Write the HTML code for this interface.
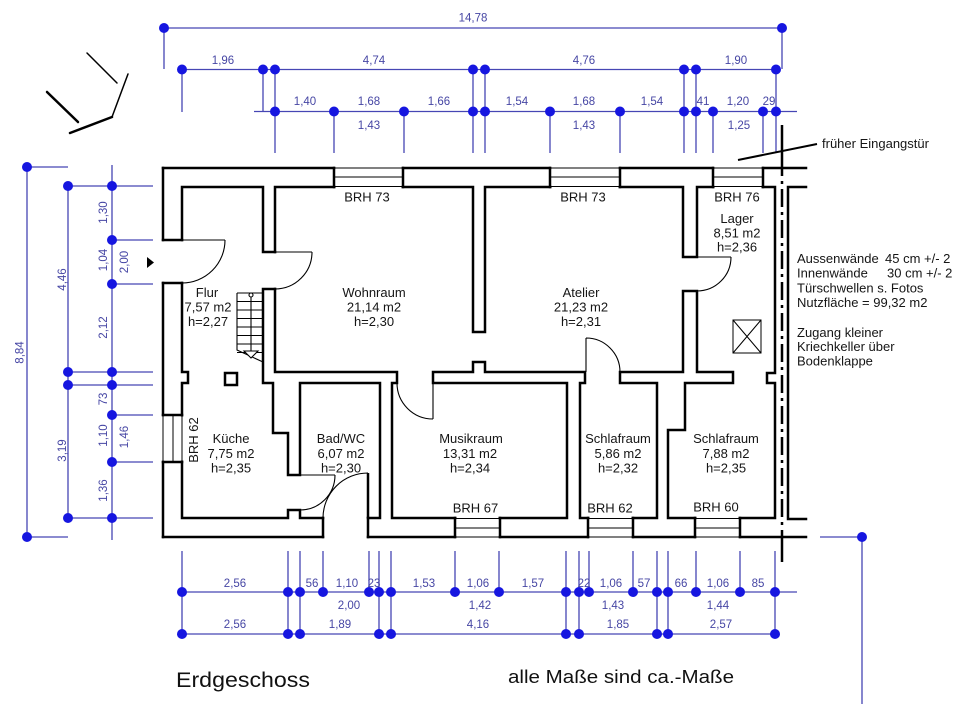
<!DOCTYPE html>
<html>
<head>
<meta charset="utf-8">
<style>
html,body{margin:0;padding:0;background:#fff;}
body{width:960px;height:704px;overflow:hidden;}
svg{display:block;}
text{font-family:"Liberation Sans",Arial,sans-serif;}
.dim{font-size:11.5px;fill:#4646a4;text-anchor:middle;}
.rm{font-size:13px;fill:#151515;text-anchor:middle;}
.nt{font-size:13px;fill:#151515;}
</style>
</head>
<body>
<svg width="960" height="704" viewBox="0 0 960 704" xmlns="http://www.w3.org/2000/svg">
<rect width="960" height="704" fill="#fff"/>

<!-- compass -->
<g stroke="#000" fill="none" stroke-linecap="round">
<path d="M87,53 L117,83" stroke-width="1.5"/>
<path d="M47,92 L78,122" stroke-width="2.5"/>
<path d="M70,133 L112,117" stroke-width="2.5"/>
<path d="M112,117 L128,74" stroke-width="1.5"/>
</g>

<!-- dimension lines -->
<g stroke="#4646b4" stroke-width="1.3" fill="none">
<path d="M164,28 H782 M164,28 V69 M782,28 V69"/>
<path d="M182,69.5 H776 M182,69.5 V112 M263,69.5 V112"/>
<path d="M275,69.5 V153 M473,69.5 V153 M485,69.5 V153 M684,69.5 V153 M696,69.5 V153 M776,69.5 V153"/>
<path d="M254,111.5 H797 M334,111.5 V153 M404,111.5 V153 M550,111.5 V153 M620,111.5 V153 M713,111.5 V153 M763,111.5 V153"/>
<path d="M27,167 V537 M27,167 H68 M27,537 H68"/>
<path d="M68,186 V518 M112,165 V540"/>
<path d="M68,186 H153 M112,240 H153 M112,284 H153 M68,372 H153 M68,385 H153 M112,415 H153 M112,462 H153 M68,518 H153"/>
<path d="M182,592 H797 M182,634 H775"/>
<path d="M182,551 V634 M288,551 V634 M300,551 V634 M379,551 V634 M391,551 V634 M566,551 V634 M579,551 V634 M657,551 V634 M668,551 V634 M775,551 V634"/>
<path d="M323,551 V592 M369,551 V592 M455,551 V592 M499,551 V592 M589,551 V592 M633,551 V592 M696,551 V592 M740,551 V592"/>
<path d="M820,537 H862 V704"/>
</g>

<!-- dots -->
<g fill="#1616e0">
<circle cx="164" cy="28" r="5"/><circle cx="782" cy="28" r="5"/>
<circle cx="182" cy="69.5" r="5"/><circle cx="263" cy="69.5" r="5"/><circle cx="275" cy="69.5" r="5"/><circle cx="473" cy="69.5" r="5"/><circle cx="485" cy="69.5" r="5"/><circle cx="684" cy="69.5" r="5"/><circle cx="696" cy="69.5" r="5"/><circle cx="776" cy="69.5" r="5"/>
<circle cx="275" cy="111.5" r="5"/><circle cx="334" cy="111.5" r="5"/><circle cx="404" cy="111.5" r="5"/><circle cx="473" cy="111.5" r="5"/><circle cx="485" cy="111.5" r="5"/><circle cx="550" cy="111.5" r="5"/><circle cx="620" cy="111.5" r="5"/><circle cx="684" cy="111.5" r="5"/><circle cx="696" cy="111.5" r="5"/><circle cx="713" cy="111.5" r="5"/><circle cx="763" cy="111.5" r="5"/><circle cx="776" cy="111.5" r="5"/>
<circle cx="27" cy="167" r="5"/><circle cx="27" cy="537" r="5"/>
<circle cx="68" cy="186" r="5"/><circle cx="68" cy="372" r="5"/><circle cx="68" cy="385" r="5"/><circle cx="68" cy="518" r="5"/>
<circle cx="112" cy="186" r="5"/><circle cx="112" cy="240" r="5"/><circle cx="112" cy="284" r="5"/><circle cx="112" cy="372" r="5"/><circle cx="112" cy="385" r="5"/><circle cx="112" cy="415" r="5"/><circle cx="112" cy="462" r="5"/><circle cx="112" cy="518" r="5"/>
<circle cx="182" cy="592" r="5"/><circle cx="288" cy="592" r="5"/><circle cx="300" cy="592" r="5"/><circle cx="323" cy="592" r="5"/><circle cx="369" cy="592" r="5"/><circle cx="379" cy="592" r="5"/><circle cx="391" cy="592" r="5"/><circle cx="455" cy="592" r="5"/><circle cx="499" cy="592" r="5"/><circle cx="566" cy="592" r="5"/><circle cx="579" cy="592" r="5"/><circle cx="589" cy="592" r="5"/><circle cx="633" cy="592" r="5"/><circle cx="657" cy="592" r="5"/><circle cx="668" cy="592" r="5"/><circle cx="696" cy="592" r="5"/><circle cx="740" cy="592" r="5"/><circle cx="775" cy="592" r="5"/>
<circle cx="182" cy="634" r="5"/><circle cx="288" cy="634" r="5"/><circle cx="300" cy="634" r="5"/><circle cx="379" cy="634" r="5"/><circle cx="391" cy="634" r="5"/><circle cx="566" cy="634" r="5"/><circle cx="579" cy="634" r="5"/><circle cx="657" cy="634" r="5"/><circle cx="668" cy="634" r="5"/><circle cx="775" cy="634" r="5"/>
<circle cx="862" cy="537" r="5"/>
</g>

<!-- dimension labels top -->
<text class="dim" x="473" y="21.5">14,78</text>
<text class="dim" x="223" y="64">1,96</text>
<text class="dim" x="374" y="64">4,74</text>
<text class="dim" x="584" y="64">4,76</text>
<text class="dim" x="736" y="64">1,90</text>
<text class="dim" x="305" y="105">1,40</text>
<text class="dim" x="369" y="105">1,68</text>
<text class="dim" x="439" y="105">1,66</text>
<text class="dim" x="517" y="105">1,54</text>
<text class="dim" x="584" y="105">1,68</text>
<text class="dim" x="652" y="105">1,54</text>
<text class="dim" x="703" y="105">41</text>
<text class="dim" x="738" y="105">1,20</text>
<text class="dim" x="769" y="105">29</text>
<text class="dim" x="369" y="129">1,43</text>
<text class="dim" x="584" y="129">1,43</text>
<text class="dim" x="739" y="129">1,25</text>

<!-- dimension labels left (rotated) -->
<text class="dim" transform="translate(23.5,352.5) rotate(-90)">8,84</text>
<text class="dim" transform="translate(66,279.5) rotate(-90)">4,46</text>
<text class="dim" transform="translate(66,450.5) rotate(-90)">3,19</text>
<text class="dim" transform="translate(107,212.5) rotate(-90)">1,30</text>
<text class="dim" transform="translate(107,260) rotate(-90)">1,04</text>
<text class="dim" transform="translate(107,327.5) rotate(-90)">2,12</text>
<text class="dim" transform="translate(107,399) rotate(-90)">73</text>
<text class="dim" transform="translate(107,435.5) rotate(-90)">1,10</text>
<text class="dim" transform="translate(107,490.5) rotate(-90)">1,36</text>
<text class="dim" transform="translate(128,262) rotate(-90)">2,00</text>
<text class="dim" transform="translate(128,437) rotate(-90)">1,46</text>

<!-- dimension labels bottom -->
<text class="dim" x="235" y="587">2,56</text>
<text class="dim" x="312" y="587">56</text>
<text class="dim" x="347" y="587">1,10</text>
<text class="dim" x="374" y="587">23</text>
<text class="dim" x="424" y="587">1,53</text>
<text class="dim" x="478" y="587">1,06</text>
<text class="dim" x="533" y="587">1,57</text>
<text class="dim" x="584" y="587">22</text>
<text class="dim" x="611" y="587">1,06</text>
<text class="dim" x="644" y="587">57</text>
<text class="dim" x="681" y="587">66</text>
<text class="dim" x="718" y="587">1,06</text>
<text class="dim" x="758" y="587">85</text>
<text class="dim" x="349" y="609">2,00</text>
<text class="dim" x="480" y="609">1,42</text>
<text class="dim" x="613" y="609">1,43</text>
<text class="dim" x="718" y="609">1,44</text>
<text class="dim" x="235" y="628">2,56</text>
<text class="dim" x="340" y="628">1,89</text>
<text class="dim" x="478" y="628">4,16</text>
<text class="dim" x="618" y="628">1,85</text>
<text class="dim" x="721" y="628">2,57</text>

<!-- walls -->
<g stroke="#000" stroke-width="2.5" fill="none" stroke-linejoin="miter" stroke-linecap="square">
<path d="M163,168 H334 M403,168 H550 M620,168 H713 M763,168 H806"/>
<path d="M163,168 V240 M163,283 V415 M163,462 V537"/>
<path d="M163,537 H323 M368,537 H455 M500,537 H588 M633,537 H695 M740,537 H806"/>
<path d="M334,168 V187 M403,168 V187 M550,168 V187 M620,168 V187 M713,168 V187 M763,168 V187"/>
<path d="M455,518 V537 M500,518 V537 M588,518 V537 M633,518 V537 M695,518 V537 M740,518 V537"/>
<path d="M163,240 H182 M163,283 H182 M163,415 H182 M163,462 H182"/>
<path d="M323,518 V537 M368,518 V537"/>
<path d="M182,240 V187 H263 V252 H275"/>
<path d="M182,283 V372 H188 V383 H182 V518 H288 V510 H300 V518 H323"/>
<path d="M275,289 H263 V383 H273 V433 H288 V475 H300 V383 H380 V518 H368"/>
<path d="M275,252 V187 H473 V332 H485 V187 H683 V257 H697 V187 H775 V373 H767 V383 H775 V518 H668 V430 H685 V383 H733 V372 H697 V291 H683 V372 H620 V383 H657 V518 H580 V383 H585 V372 H485 V362 H473 V372 H433 V383 H567 V518 H392 V383 H397 V372 H275 V289"/>
<path d="M788,187 V519 M788,187 H806 M788,519 H806"/>
<rect x="225" y="373" width="12" height="12"/>
</g>

<!-- windows -->
<g fill="#fff" stroke="none">
<rect x="335.5" y="164" width="66" height="26"/>
<rect x="551.5" y="164" width="67" height="26"/>
<rect x="714.5" y="164" width="47" height="26"/>
<rect x="456.5" y="515" width="42" height="26"/>
<rect x="589.5" y="515" width="42" height="26"/>
<rect x="696.5" y="515" width="42" height="26"/>
<rect x="159" y="416.5" width="26" height="44"/>
</g>
<g stroke="#000" stroke-width="1" fill="none">
<path d="M334,168 H403 M334,177 H403 M334,186.5 H403"/>
<path d="M550,168 H620 M550,177 H620 M550,186.5 H620"/>
<path d="M713,168 H763 M713,177 H763 M713,186.5 H763"/>
<path d="M455,518.5 H500 M455,528 H500 M455,537 H500"/>
<path d="M588,518.5 H633 M588,528 H633 M588,537 H633"/>
<path d="M695,518.5 H740 M695,528 H740 M695,537 H740"/>
<path d="M163,415 V462 M173,415 V462 M182,415 V462"/>
</g>

<!-- doors -->
<g stroke="#000" stroke-width="1.1" fill="none">
<path d="M182,240 H225 M225,240 A43,43 0 0 1 182,283"/>
<path d="M275,252 H312 M312,252 A37,37 0 0 1 275,289"/>
<path d="M697,257 H731 M731,257 A34,34 0 0 1 697,291"/>
<path d="M586,372 V338 M586,338 A34,34 0 0 1 620,372"/>
<path d="M433,383 V419 M397,383 A36,36 0 0 0 433,419"/>
<path d="M300,475 H335 M335,475 A35,35 0 0 1 300,510"/>
<path d="M368,518 V473 M323,518 A45,45 0 0 1 368,473"/>
</g>
<g stroke="#000" stroke-width="2.5" fill="none">
<path d="M368,473 V518"/>
</g>

<!-- stairs -->
<g stroke="#000" stroke-width="1.1" fill="none">
<path d="M237,293 H263 M237,301.5 H263 M237,310 H263 M237,318.5 H263 M237,327 H263 M237,335.5 H263 M237,344 H263 M237,352.5 H263"/>
<path d="M237,293 V350 L263,362"/>
<path d="M251,297 V352"/>
<circle cx="251" cy="295" r="2" fill="#fff"/>
<path d="M244,351 L258,351 L251,358 Z" fill="#fff"/>
</g>

<!-- hatch -->
<g stroke="#000" stroke-width="1" fill="none">
<rect x="733" y="320" width="28" height="33"/>
<path d="M733,320 L761,353 M761,320 L733,353"/>
</g>

<!-- axis / früher Eingangstür -->
<g stroke="#000" fill="none">
<path d="M738,160 L817,144" stroke-width="2"/>
<path d="M782,125 V158" stroke-width="2.5"/>
<path d="M782,158 V530" stroke-width="2.5" stroke-dasharray="18 5 3 5"/>
<path d="M782,530 V562" stroke-width="2.5"/>
</g>

<!-- room labels -->
<text class="rm" x="367" y="201.5">BRH 73</text>
<text class="rm" x="583" y="201.5">BRH 73</text>
<text class="rm" x="737" y="201.5">BRH 76</text>

<text class="rm" x="737" y="223">Lager</text>
<text class="rm" x="737" y="237.5">8,51 m2</text>
<text class="rm" x="737" y="251.5">h=2,36</text>

<text class="rm" x="207" y="297">Flur</text>
<text class="rm" x="208" y="311.5">7,57 m2</text>
<text class="rm" x="208" y="326">h=2,27</text>

<text class="rm" x="374" y="297">Wohnraum</text>
<text class="rm" x="374" y="311.5">21,14 m2</text>
<text class="rm" x="374" y="326">h=2,30</text>

<text class="rm" x="581" y="297">Atelier</text>
<text class="rm" x="581" y="311.5">21,23 m2</text>
<text class="rm" x="581" y="326">h=2,31</text>

<text class="rm" x="231" y="443">Küche</text>
<text class="rm" x="231" y="458">7,75 m2</text>
<text class="rm" x="231" y="472.5">h=2,35</text>

<text class="rm" x="341" y="443">Bad/WC</text>
<text class="rm" x="341" y="458">6,07 m2</text>
<text class="rm" x="341" y="472.5">h=2,30</text>

<text class="rm" x="471" y="443">Musikraum</text>
<text class="rm" x="470" y="458">13,31 m2</text>
<text class="rm" x="470" y="472.5">h=2,34</text>

<text class="rm" x="618" y="443">Schlafraum</text>
<text class="rm" x="618" y="458">5,86 m2</text>
<text class="rm" x="618" y="472.5">h=2,32</text>

<text class="rm" x="726" y="443">Schlafraum</text>
<text class="rm" x="726" y="458">7,88 m2</text>
<text class="rm" x="726" y="472.5">h=2,35</text>

<text class="rm" x="475.5" y="512.5">BRH 67</text>
<text class="rm" x="610" y="512.5">BRH 62</text>
<text class="rm" x="716" y="511.5">BRH 60</text>
<text class="rm" transform="translate(198,440) rotate(-90)">BRH 62</text>

<!-- entrance marker -->
<path d="M147,257 L154,262.5 L147,268 Z" fill="#000"/>

<!-- notes -->
<text class="nt" x="822" y="148">früher Eingangstür</text>
<text class="nt" x="797" y="263">Aussenwände</text>
<text class="nt" x="885" y="263">45 cm +/- 2</text>
<text class="nt" x="797" y="277.5">Innenwände</text>
<text class="nt" x="887" y="277.5">30 cm +/- 2</text>
<text class="nt" x="797" y="292.5">Türschwellen s. Fotos</text>
<text class="nt" x="797" y="307">Nutzfläche = 99,32 m2</text>
<text class="nt" x="797" y="337">Zugang kleiner</text>
<text class="nt" x="797" y="351">Kriechkeller über</text>
<text class="nt" x="797" y="365.5">Bodenklappe</text>

<!-- titles -->
<text x="176" y="687" font-size="21" fill="#111" textLength="134" lengthAdjust="spacingAndGlyphs">Erdgeschoss</text>
<text x="508" y="683" font-size="18" fill="#111" textLength="226" lengthAdjust="spacingAndGlyphs">alle Maße sind ca.-Maße</text>
</svg>
</body>
</html>
